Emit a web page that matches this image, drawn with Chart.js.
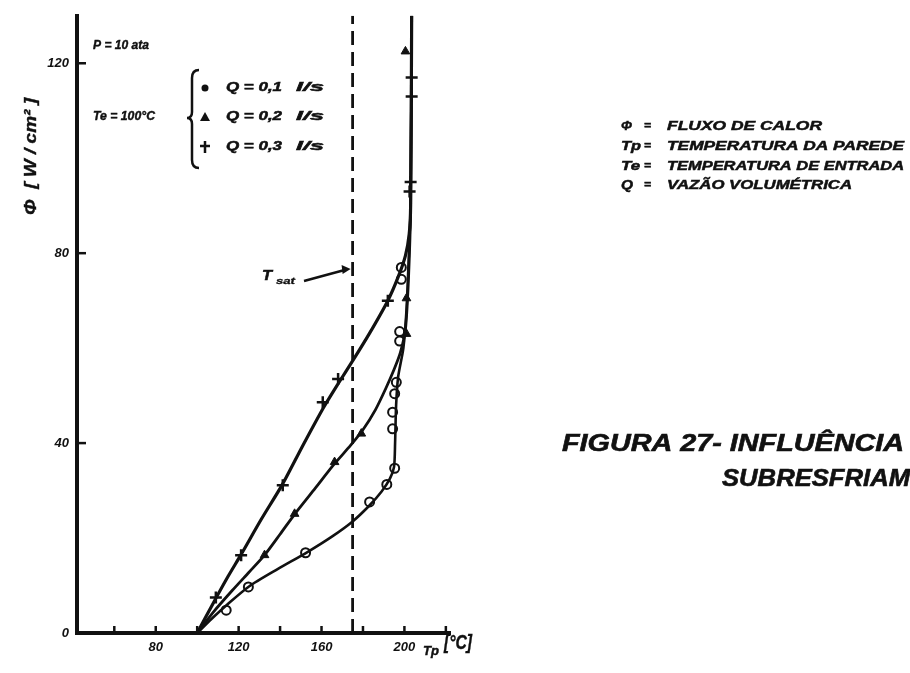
<!DOCTYPE html>
<html><head><meta charset="utf-8">
<script src="https://cdn.jsdelivr.net/npm/chart.js@4.4.1/dist/chart.umd.min.js"></script>
<style>html,body{margin:0;padding:0;background:#fff}#wrap{width:910px;height:673px}</style>
</head><body><div id="wrap"><canvas id="c" width="910" height="673"></canvas></div>
<script>
// ---- data ----
const xTickValues = [60, 80, 100, 120, 140, 160, 180, 200, 220];
const xTickLabels = [80, 120, 160, 200];
const yTickValues = [0, 40, 80, 120];
const tSat = 175;

// Q = 0,1 l/s (circles)
const q01MarkTemp = [114, 124.7, 152.3, 183.2, 191.5, 195.3, 194.3, 194.3, 195.3, 196.1, 197.7, 197.7, 198.5, 198.5];
const q01MarkFlux = [4.8, 9.7, 16.9, 27.6, 31.3, 34.7, 43, 46.5, 50.4, 52.8, 61.5, 63.5, 74.5, 77];
const q01CurveTemp = [100, 107, 114, 125, 139, 153, 165, 175, 183, 189, 193, 195, 195.5, 196, 197, 199.5, 201, 202, 203, 203.5];
const q01CurveFlux = [0, 3, 5.8, 9.8, 13.5, 17, 20.3, 23.5, 26.8, 29.8, 32.5, 35, 40, 48, 54, 60, 68, 78, 90, 130];

// Q = 0,2 l/s (triangles)
const q02MarkTemp = [132.5, 147, 166.3, 179.2, 201, 201, 200.5];
const q02MarkFlux = [16.4, 25.1, 36, 42, 63, 70.5, 122.5];
const q02CurveTemp = [100, 108, 117, 125, 132.5, 140, 147, 157, 166, 174, 180, 186, 191, 195, 198, 200.5, 202, 203, 203.5];
const q02CurveFlux = [0, 4.5, 9, 12.8, 16.4, 20.8, 25, 30.5, 35.5, 39.5, 42.8, 47, 51.5, 55.5, 59, 64, 75, 90, 130];

// Q = 0,3 l/s (crosses)
const q03MarkTemp = [109, 121.2, 141.3, 160.6, 168, 192, 202.5, 203, 203.5, 203.5];
const q03MarkFlux = [7.5, 16.4, 31.1, 48.6, 53.5, 70, 93, 95, 113, 117];
const q03CurveTemp = [100, 108, 115, 121, 131, 141, 151, 161, 168, 175, 183, 192, 197, 200.5, 202.3, 203, 203.5];
const q03CurveFlux = [0, 6.5, 12, 16.4, 24, 31.2, 39.5, 47.5, 52.5, 57.3, 63, 70, 75, 79.5, 84, 90, 130];

const pts = (xs, ys) => xs.map((x, i) => ({x, y: ys[i]}));
const INK = '#111';
const LF = (s) => `bold italic ${s}px "Liberation Sans", "DejaVu Sans", sans-serif`;

function fitText(ctx, text, x, y, w, font, heavy) {
  ctx.save();
  ctx.font = font;
  const m = ctx.measureText(text).width;
  ctx.translate(x, y);
  ctx.scale(w / m, 1);
  ctx.fillText(text, 0, 0);
  if (heavy) { ctx.lineWidth = heavy; ctx.strokeText(text, 0, 0); }
  ctx.restore();
}

const insideTicks = {
  id: 'insideTicks',
  afterDatasetsDraw(chart) {
    const ctx = chart.ctx;
    const xs = chart.scales.x, ys = chart.scales.y;
    const ca = chart.chartArea;
    ctx.save();
    ctx.strokeStyle = INK;
    ctx.lineWidth = 2.5;
    ctx.setLineDash([]);
    for (const v of xTickValues) {
      const px = xs.getPixelForValue(v);
      ctx.beginPath(); ctx.moveTo(px, ca.bottom + 1); ctx.lineTo(px, ca.bottom - 7); ctx.stroke();
    }
    for (const v of yTickValues) {
      if (v === 0) continue;
      const py = ys.getPixelForValue(v);
      ctx.beginPath(); ctx.moveTo(ca.left - 1, py); ctx.lineTo(ca.left + 9, py); ctx.stroke();
    }
    ctx.restore();
  }
};

const annot = {
  id: 'annot',
  afterDraw(chart) {
    const ctx = chart.ctx;
    const xs = chart.scales.x;
    ctx.save();
    ctx.setLineDash([]);
    ctx.strokeStyle = INK; ctx.fillStyle = INK;
    ctx.textBaseline = 'middle'; ctx.textAlign = 'left';
    // conditions
    fitText(ctx, 'P = 10 ata', 93, 46, 56, LF(12), 0.4);
    fitText(ctx, 'Te = 100°C', 93, 117, 62, LF(12), 0.4);
    // brace
    ctx.lineWidth = 2.5;
    ctx.beginPath();
    ctx.moveTo(199, 70); ctx.quadraticCurveTo(192, 70, 192, 78);
    ctx.lineTo(192, 112); ctx.quadraticCurveTo(192, 118, 187, 118);
    ctx.quadraticCurveTo(192, 118, 192, 124);
    ctx.lineTo(192, 160); ctx.quadraticCurveTo(192, 168, 199, 168);
    ctx.stroke();
    // series key
    const rows = [88, 117, 147];
    ctx.beginPath(); ctx.arc(205, rows[0], 3.5, 0, Math.PI * 2); ctx.fill();
    ctx.beginPath(); ctx.moveTo(205, rows[1] - 5); ctx.lineTo(210, rows[1] + 4); ctx.lineTo(200, rows[1] + 4); ctx.closePath(); ctx.fill();
    ctx.lineWidth = 2.5;
    ctx.beginPath(); ctx.moveTo(205, rows[2] - 6); ctx.lineTo(205, rows[2] + 6); ctx.moveTo(200, rows[2] - 1); ctx.lineTo(210, rows[2] - 1); ctx.stroke();
    const qs = ['Q = 0,1', 'Q = 0,2', 'Q = 0,3'];
    rows.forEach((y, i) => {
      fitText(ctx, qs[i], 226, y, 56, LF(12), 0.5);
      fitText(ctx, 'l/s', 296, y, 28, LF(12), 0.5);
    });
    // y axis title (rotated)
    ctx.save();
    ctx.translate(32, 215);
    ctx.rotate(-Math.PI / 2);
    fitText(ctx, 'Φ  [ W / cm² ]', 0, 0, 117, LF(16), 0.4);
    ctx.restore();
    // x axis title
    fitText(ctx, 'Tp', 423, 652, 16, LF(12), 0.4);
    fitText(ctx, '[°C]', 444, 643, 28, LF(21), 0.4);
    // T sat label and arrow
    const tx = xs.getPixelForValue(tSat);
    fitText(ctx, 'T', 262, 276, 10, LF(14), 0.5);
    fitText(ctx, 'sat', 276, 282, 19, LF(9), 0.3);
    ctx.lineWidth = 2.5;
    ctx.beginPath(); ctx.moveTo(304, 281); ctx.lineTo(tx - 8, 270); ctx.stroke();
    ctx.beginPath(); ctx.moveTo(tx - 2, 269); ctx.lineTo(tx - 11, 265); ctx.lineTo(tx - 10, 274); ctx.closePath(); ctx.fill();
    // right-hand glossary
    const gy = [126, 146, 166, 185];
    const gs = ['Φ', 'Tp', 'Te', 'Q'];
    const gw = [11, 20, 19, 12];
    const gt = ['FLUXO DE CALOR', 'TEMPERATURA DA PAREDE', 'TEMPERATURA DE ENTRADA', 'VAZÃO VOLUMÉTRICA'];
    const gtw = [155, 237, 237, 185];
    gy.forEach((y, i) => {
      fitText(ctx, gs[i], 621, y, gw[i], LF(13), 0.5);
      fitText(ctx, '=', 644, y, 7, LF(10), 0.5);
      fitText(ctx, gt[i], 667, y, gtw[i], LF(13), 0.5);
    });
    // figure caption
    fitText(ctx, 'FIGURA 27- INFLUÊNCIA', 562, 445, 342, LF(23), 0.6);
    fitText(ctx, 'SUBRESFRIAM', 722, 480, 188, LF(23), 0.6);
    ctx.restore();
  }
};

const curveStyle = (w) => ({showLine: true, pointRadius: 0, borderColor: INK, borderWidth: w, tension: 0.25, fill: false});

new Chart(document.getElementById('c'), {
  type: 'scatter',
  data: {
    datasets: [
      Object.assign({label: 'Q = 0,1 curve', data: pts(q01CurveTemp, q01CurveFlux)}, curveStyle(2.6)),
      Object.assign({label: 'Q = 0,2 curve', data: pts(q02CurveTemp, q02CurveFlux)}, curveStyle(2.8)),
      Object.assign({label: 'Q = 0,3 curve', data: pts(q03CurveTemp, q03CurveFlux)}, curveStyle(3.2)),
      {label: 'Tsat', data: [{x: tSat, y: 0}, {x: tSat, y: 130}], showLine: true, pointRadius: 0,
       borderColor: INK, borderWidth: 2.8, borderDash: [14, 7]},
      {label: 'Q = 0,1 l/s', data: pts(q01MarkTemp, q01MarkFlux), pointStyle: 'circle', pointRadius: 4.5,
       pointBackgroundColor: '#fff', pointBorderColor: INK, pointBorderWidth: 2},
      {label: 'Q = 0,2 l/s', data: pts(q02MarkTemp, q02MarkFlux), pointStyle: 'triangle', pointRadius: 5,
       pointBackgroundColor: INK, pointBorderColor: INK, pointBorderWidth: 1},
      {label: 'Q = 0,3 l/s', data: pts(q03MarkTemp, q03MarkFlux), pointStyle: 'cross', pointRadius: 6,
       pointBackgroundColor: INK, pointBorderColor: INK, pointBorderWidth: 2.5}
    ]
  },
  options: {
    responsive: false,
    devicePixelRatio: 1,
    animation: false,
    layout: {padding: {left: 0, right: 460, top: 12, bottom: 0}},
    plugins: {legend: {display: false}, tooltip: {enabled: false}},
    scales: {
      x: {
        type: 'linear', min: 42, max: 222,
        afterBuildTicks: (s) => { s.ticks = xTickValues.map(v => ({value: v})); },
        afterFit: (s) => { s.height = 40; },
        ticks: {autoSkip: false, maxRotation: 0, padding: 7, color: INK, font: {family: '"Liberation Sans"', size: 13, style: 'italic', weight: 'bold'},
                callback: (v) => xTickLabels.includes(v) ? String(v) : ''},
        grid: {drawOnChartArea: false, drawTicks: false},
        border: {display: true, width: 4, color: INK}
      },
      y: {
        type: 'linear', min: 0, max: 130,
        afterBuildTicks: (s) => { s.ticks = yTickValues.map(v => ({value: v})); },
        afterFit: (s) => { s.width = 77; },
        ticks: {padding: 8, color: INK, font: {family: '"Liberation Sans"', size: 13, style: 'italic', weight: 'bold'},
                callback: (v) => String(v)},
        grid: {drawOnChartArea: false, drawTicks: false},
        border: {display: true, width: 4, color: INK}
      }
    }
  },
  plugins: [insideTicks, annot]
});
</script>
</body></html>
